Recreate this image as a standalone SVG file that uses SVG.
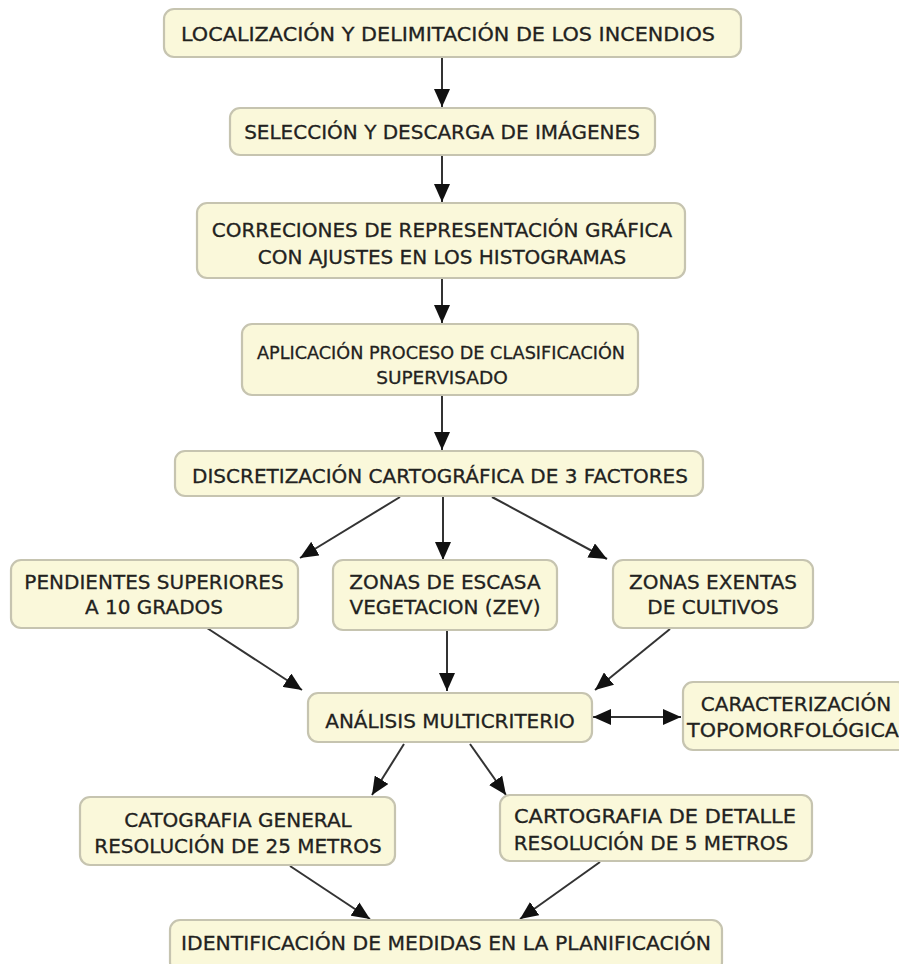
<svg xmlns="http://www.w3.org/2000/svg" width="899" height="964" viewBox="0 0 899 964">
<style>
.box{fill:#FAF8DA;stroke:#C6C4B0;stroke-width:2.2}
.t{font-family:"DejaVu Sans","Liberation Sans",sans-serif;font-size:20px;fill:#22221E;stroke:#22221E;stroke-width:0.3;text-anchor:middle}
.s{font-size:18.5px}
.c{stroke:#333333;stroke-width:2;fill:none;marker-end:url(#ah)}
.d{stroke:#333333;stroke-width:2;fill:none;marker-end:url(#ah);marker-start:url(#ah)}
</style>
<defs>
<marker id="ah" markerUnits="userSpaceOnUse" markerWidth="18" markerHeight="16" refX="18" refY="8" orient="auto-start-reverse">
<path d="M0,0 L18,8 L0,16 z" fill="#111111"/>
</marker>
</defs>
<rect width="899" height="964" fill="#FFFFFF"/>
<g id="connectors">
<line class="c" x1="442" y1="57" x2="442" y2="107"/>
<line class="c" x1="442" y1="155" x2="442" y2="202"/>
<line class="c" x1="442" y1="278" x2="442" y2="323"/>
<line class="c" x1="442" y1="395" x2="442" y2="450"/>
<line class="c" x1="400" y1="497" x2="300" y2="558"/>
<line class="c" x1="443" y1="496" x2="443" y2="560"/>
<line class="c" x1="492" y1="497" x2="607" y2="559"/>
<line class="c" x1="207" y1="628" x2="302" y2="690"/>
<line class="c" x1="447" y1="630" x2="447" y2="691"/>
<line class="c" x1="670" y1="629" x2="595" y2="690"/>
<line class="d" x1="593" y1="717" x2="681" y2="717"/>
<line class="c" x1="404" y1="744" x2="372" y2="795"/>
<line class="c" x1="470" y1="744" x2="506" y2="795"/>
<line class="c" x1="290" y1="866" x2="370" y2="919"/>
<line class="c" x1="600" y1="862" x2="520" y2="919"/>
</g>
<g id="n1"><rect class="box" x="164" y="9" width="577" height="48" rx="10"/><text class="t" x="448" y="41" textLength="534" lengthAdjust="spacingAndGlyphs">LOCALIZACIÓN Y DELIMITACIÓN DE LOS INCENDIOS</text></g>
<g id="n2"><rect class="box" x="230" y="108" width="425" height="47" rx="10"/><text class="t" x="442" y="139">SELECCIÓN Y DESCARGA DE IMÁGENES</text></g>
<g id="n3"><rect class="box" x="197" y="203" width="488" height="75" rx="10"/><text class="t" x="442" y="237">CORRECIONES DE REPRESENTACIÓN GRÁFICA</text><text class="t" x="442" y="264">CON AJUSTES EN LOS HISTOGRAMAS</text></g>
<g id="n4"><rect class="box" x="242" y="324" width="396" height="71" rx="10"/><text class="t s" x="441" y="359" textLength="368" lengthAdjust="spacingAndGlyphs">APLICACIÓN PROCESO DE CLASIFICACIÓN</text><text class="t s" x="442" y="384">SUPERVISADO</text></g>
<g id="n5"><rect class="box" x="175" y="451" width="528" height="45" rx="10"/><text class="t" x="440" y="483">DISCRETIZACIÓN CARTOGRÁFICA DE 3 FACTORES</text></g>
<g id="n6a"><rect class="box" x="11" y="560" width="287" height="68" rx="10"/><text class="t" x="154" y="589">PENDIENTES SUPERIORES</text><text class="t" x="154" y="614">A 10 GRADOS</text></g>
<g id="n6b"><rect class="box" x="333" y="560" width="224" height="70" rx="10"/><text class="t" x="445" y="589">ZONAS DE ESCASA</text><text class="t" x="445" y="614">VEGETACION (ZEV)</text></g>
<g id="n6c"><rect class="box" x="613" y="560" width="200" height="68" rx="10"/><text class="t" x="713" y="589">ZONAS EXENTAS</text><text class="t" x="713" y="614">DE CULTIVOS</text></g>
<g id="n7"><rect class="box" x="308" y="693" width="284" height="49" rx="10"/><text class="t" x="450" y="728">ANÁLISIS MULTICRITERIO</text></g>
<g id="n8"><rect class="box" x="683" y="682" width="224" height="68" rx="10"/><text class="t" x="796" y="711">CARACTERIZACIÓN</text><text class="t" x="793" y="737" textLength="212" lengthAdjust="spacingAndGlyphs">TOPOMORFOLÓGICA</text></g>
<g id="n9a"><rect class="box" x="80" y="797" width="315" height="68" rx="10"/><text class="t" x="238" y="827">CATOGRAFIA GENERAL</text><text class="t" x="238" y="853">RESOLUCIÓN DE 25 METROS</text></g>
<g id="n9b"><rect class="box" x="500" y="795" width="312" height="66" rx="10"/><text class="t" x="655" y="823" textLength="282" lengthAdjust="spacingAndGlyphs">CARTOGRAFIA DE DETALLE</text><text class="t" x="651" y="850">RESOLUCIÓN DE 5 METROS</text></g>
<g id="n10"><rect class="box" x="170" y="920" width="552" height="52" rx="10"/><text class="t" x="446" y="950" textLength="530" lengthAdjust="spacingAndGlyphs">IDENTIFICACIÓN DE MEDIDAS EN LA PLANIFICACIÓN</text></g>
</svg>
